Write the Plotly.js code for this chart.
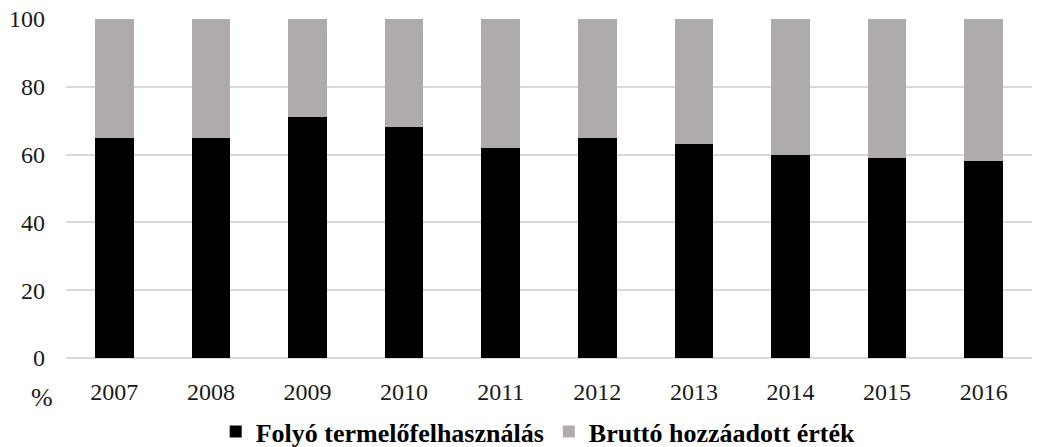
<!DOCTYPE html>
<html>
<head>
<meta charset="utf-8">
<script src="https://cdn.plot.ly/plotly-3.0.1.min.js"></script>
<style>
html,body{margin:0;padding:0;background:#fff;}
#chart{width:1037px;height:447px;}
</style>
</head>
<body>
<div id="chart"></div>
<script>
const years = ['2007','2008','2009','2010','2011','2012','2013','2014','2015','2016'];
const folyo = [65, 65, 71, 68, 62, 65, 63, 60, 59, 58];
const brutto = [35, 35, 29, 32, 38, 35, 37, 40, 41, 42];
const yTicks = [0, 20, 40, 60, 80, 100];

const fontFam = '"Liberation Serif", "Times New Roman", serif';

const traces = [
  {
    type: 'bar', name: 'Folyó termelőfelhasználás',
    x: years, y: folyo,
    marker: {color: '#000000', line: {width: 0}},
    hoverinfo: 'x+y'
  },
  {
    type: 'bar', name: 'Bruttó hozzáadott érték',
    x: years, y: brutto,
    marker: {color: '#AFABAB', line: {width: 0}},
    hoverinfo: 'x+y'
  }
];

const layout = {
  width: 1037, height: 447,
  margin: {l: 66, r: 5, t: 19, b: 89, autoexpand: false},
  paper_bgcolor: '#ffffff', plot_bgcolor: '#ffffff',
  barmode: 'stack',
  bargap: 0.6,
  font: {family: fontFam, size: 24, color: '#1a1a1a'},
  xaxis: {
    type: 'category',
    showgrid: false, zeroline: false, showline: false,
    ticks: '', ticklabelstandoff: 17,
    tickfont: {family: fontFam, size: 24, color: '#1a1a1a'}
  },
  yaxis: {
    range: [0, 100],
    tickvals: yTicks,
    ticktext: yTicks.map(String),
    showgrid: true, gridcolor: '#d9d9d9', gridwidth: 2,
    zeroline: true, zerolinecolor: '#d9d9d9', zerolinewidth: 2,
    showline: false, ticks: '', ticklabelstandoff: 20,
    tickfont: {family: fontFam, size: 24, color: '#1a1a1a'}
  },
  showlegend: true,
  legend: {
    orientation: 'h',
    traceorder: 'normal',
    bgcolor: 'rgba(0,0,0,0)',
    xref: 'container', yref: 'paper',
    x: 0.519, xanchor: 'center',
    y: -0.148, yanchor: 'top',
    font: {family: fontFam, size: 26, color: '#000000', weight: 'bold'},
    itemclick: false, itemdoubleclick: false,
    tracegroupgap: 0
  },
  annotations: [{
    text: '%', xref: 'paper', yref: 'paper',
    x: -0.025, y: -0.117, xanchor: 'center', yanchor: 'middle',
    showarrow: false,
    font: {family: fontFam, size: 26, color: '#1a1a1a'}
  }]
};

Plotly.newPlot('chart', traces, layout, {displayModeBar: false, staticPlot: false});
</script>
</body>
</html>
